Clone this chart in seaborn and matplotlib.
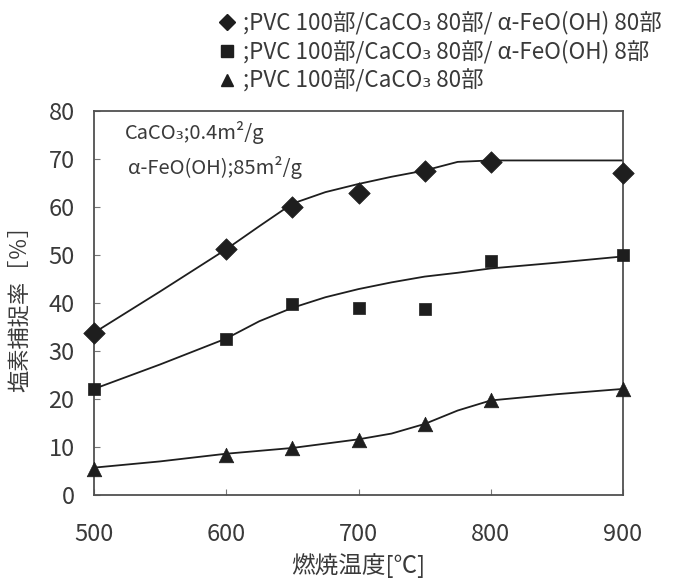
import numpy as np
import pandas as pd
import matplotlib
matplotlib.use("Agg")
import matplotlib.pyplot as plt
from matplotlib.lines import Line2D
import seaborn as sns

# ── data ──────────────────────────────────────────────────────────────────────
temp = [500, 600, 650, 700, 750, 800, 900]
fe80 = [33.8, 51.2, 60.0, 62.9, 67.4, 69.3, 67.0]
fe8 = [22.1, 32.6, 39.7, 39.0, 38.8, 48.8, 50.0]
no_fe = [5.4, 8.4, 9.8, 11.4, 14.8, 19.7, 22.1]

# hand-drawn trend curves
curve_x = [500, 550, 600, 625, 650, 675, 700, 725, 750, 775, 800, 850, 900]
fe80_fit = [33.8, 42.4, 51.2, 56.0, 60.7, 63.1, 64.8, 66.3, 67.6, 69.4, 69.7, 69.7, 69.7]
fe8_fit = [22.1, 27.2, 32.6, 36.2, 39.0, 41.2, 42.9, 44.3, 45.5, 46.3, 47.2, 48.4, 49.7]
no_fe_fit = [5.7, 7.0, 8.6, 9.2, 9.8, 10.7, 11.6, 12.8, 14.8, 17.6, 19.7, 21.0, 22.1]

labels = [
    ";PVC 100部/CaCO₃ 80部/ α-FeO(OH) 80部",
    ";PVC 100部/CaCO₃ 80部/ α-FeO(OH) 8部",
    ";PVC 100部/CaCO₃ 80部",
]
markers = ["D", "s", "^"]
x_ticks = [500, 600, 700, 800, 900]
y_ticks = list(range(0, 81, 10))

# ── style ─────────────────────────────────────────────────────────────────────
sns.set_style("white")
plt.rcParams["font.family"] = ["Noto Sans CJK JP", "DejaVu Sans"]
TXT = "#3a3a3a"
INK = "#1e1e1e"

fig = plt.figure(figsize=(6.75, 5.8), dpi=100)
ax = fig.add_axes([94 / 675, 85 / 580, 529 / 675, 384 / 580])

series = [(fe80, fe80_fit), (fe8, fe8_fit), (no_fe, no_fe_fit)]
sizes = {"D": 120, "s": 85, "^": 110}
for (pts, fit), m in zip(series, markers):
    sns.lineplot(x=curve_x, y=fit, ax=ax, color=INK, lw=1.3,
                 estimator=None, sort=False)
    sns.scatterplot(x=temp, y=pts, ax=ax, marker=m, s=sizes[m],
                    color=INK, edgecolor=INK, linewidth=0.5, zorder=3,
                    clip_on=False)

ax.set_xlim(500, 900)
ax.set_ylim(0, 80)
ax.set_xticks(x_ticks)
ax.set_yticks(y_ticks)
ax.tick_params(axis="both", direction="in", length=4, width=0.8,
               colors="#777777", labelcolor=TXT, labelsize=17)
ax.tick_params(axis="x", pad=20)
ax.tick_params(axis="y", pad=14)
ax.tick_params(bottom=True, left=True)
for sp in ax.spines.values():
    sp.set_color("#505050")
    sp.set_linewidth(1.3)

ax.set_xlabel("燃焼温度[℃]", fontsize=17, color=TXT)
ax.set_ylabel("塩素捕捉率［％］", fontsize=16, color=TXT)
ax.xaxis.set_label_coords(0.5, -0.151)
ax.yaxis.set_label_coords(-0.119, 0.5)

ax.text(0.058, 0.945, "CaCO₃;0.4m²/g", transform=ax.transAxes,
        fontsize=14.5, color=TXT, va="center", ha="left")
ax.text(0.064, 0.854, "α-FeO(OH);85m²/g", transform=ax.transAxes,
        fontsize=14.5, color=TXT, va="center", ha="left")

handles = [Line2D([], [], marker=m, linestyle="none", color=INK,
                  markersize={"D": 8.5, "s": 8, "^": 9}[m]) for m in markers]
fig.legend(handles, labels, loc="upper left",
           bbox_to_anchor=(216 / 675, 1 - 11 / 580),
           frameon=False, fontsize=16.2, handlelength=1.0, handletextpad=0.2,
           borderpad=0, borderaxespad=0, labelspacing=0.24, labelcolor=TXT)

fig.savefig("out.png", dpi=100)
